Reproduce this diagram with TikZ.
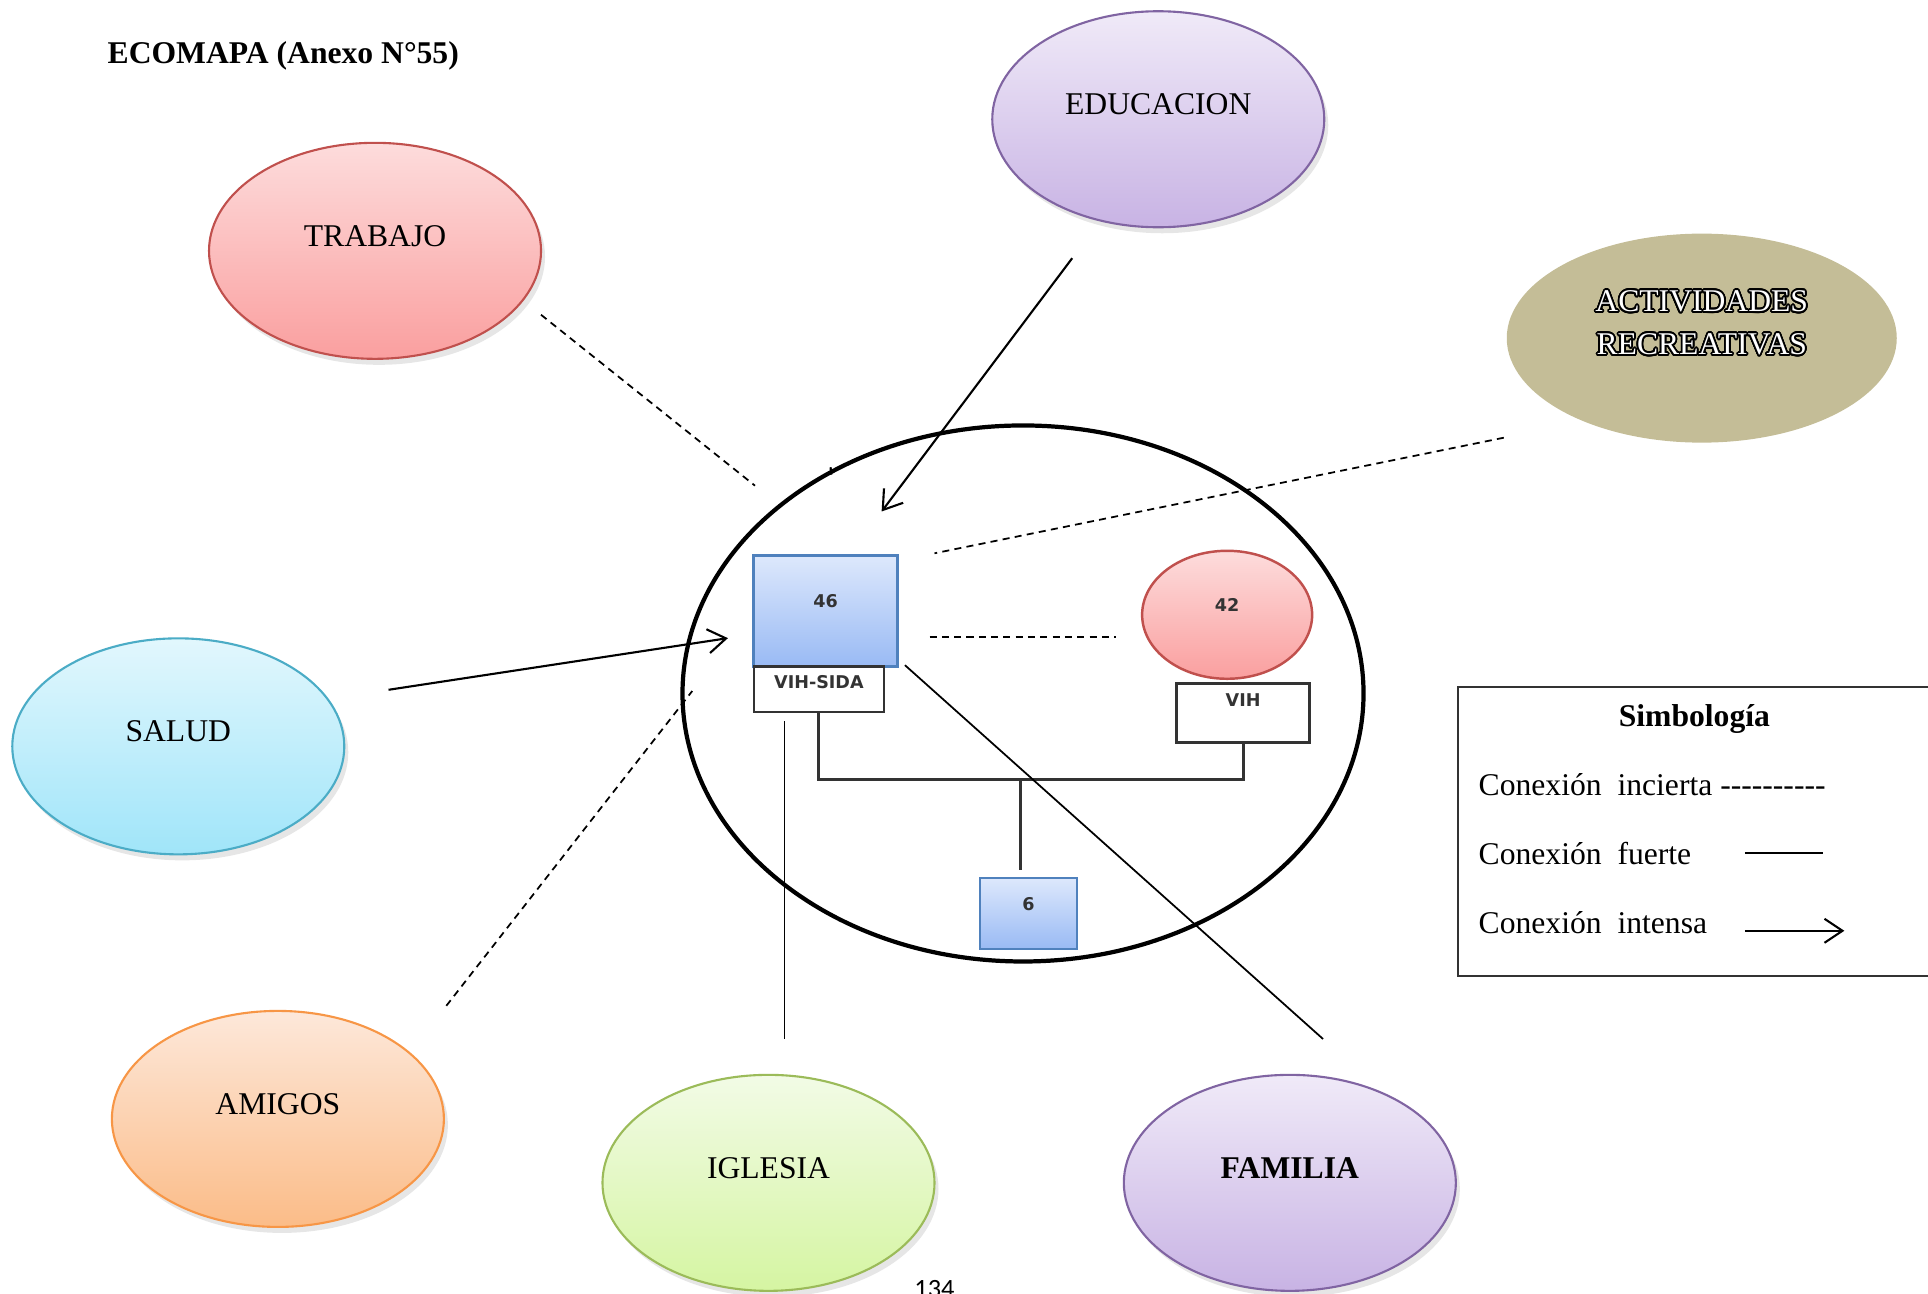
\documentclass[tikz,border=0pt]{standalone}
\usepackage{fontspec}
\setmainfont{Liberation Serif}
\newfontfamily\genofont{DejaVu Sans}
\newfontfamily\legfont{Liberation Serif}
\newfontfamily\pagefont{Carlito}
\usepackage{contour}
\contourlength{0.5pt}
\contournumber{24}
\usetikzlibrary{shapes.geometric,arrows.meta,shadows}
\definecolor{rojoB}{HTML}{C0504D}
\definecolor{rojoA}{HTML}{FDDCDC}
\definecolor{rojoC}{HTML}{FA9F9F}
\definecolor{moradoB}{HTML}{8064A2}
\definecolor{moradoA}{HTML}{F0EAF8}
\definecolor{moradoC}{HTML}{C8B3E4}
\definecolor{celesteB}{HTML}{4BACC6}
\definecolor{celesteA}{HTML}{E2F7FD}
\definecolor{celesteC}{HTML}{A0E5F9}
\definecolor{naranjaB}{HTML}{F79646}
\definecolor{naranjaA}{HTML}{FDE8DA}
\definecolor{naranjaC}{HTML}{FBBC88}
\definecolor{verdeB}{HTML}{9BBB59}
\definecolor{verdeA}{HTML}{F2FBE6}
\definecolor{verdeC}{HTML}{D5F5A2}
\definecolor{azulB}{HTML}{4F81BD}
\definecolor{azulA}{HTML}{DDE8FC}
\definecolor{azulC}{HTML}{99BAF4}
\definecolor{arena}{HTML}{C4BD97}
\definecolor{tinta}{HTML}{333333}
\tikzset{
	eco/.style = {
		shape=ellipse,
		line width=0.6pt,
		minimum width=33.2mm,
		minimum height=21.6mm,
		inner sep=0pt,
		text depth=3mm,
		font=\fontsize{9}{11}\selectfont
	},
	tono/.style = {
		draw=#1B,
		top color=#1A,
		bottom color=#1C
	},
	sombra/.style = {
		drop shadow={shadow xshift=0.4mm,shadow yshift=-0.6mm,opacity=0.2}
	},
	geno/.style = {
		inner sep=0pt,
		text=tinta,
		font=\genofont\bfseries\fontsize{5}{6}\selectfont
	},
	cuadro/.style = {
		geno,
		rectangle,
		line width=0.7pt,
		tono=azul
	},
	etiqueta/.style = {
		geno,
		rectangle,
		draw=tinta,
		line width=0.8pt,
		fill=white
	},
	texto/.style = {
		inner sep=0pt,
		font=\fontsize{9}{11}\selectfont
	},
	incierta/.style = {dash pattern=on 2pt off 1.5pt, line width=0.5pt},
	fuerte/.style = {line width=0.5pt},
	intensa/.style = {line width=0.6pt, -{Straight Barb[length=1.8mm,width=2.4mm]}}
}
\begin{document}
\begin{tikzpicture}[x=0.12296mm,y=-0.12296mm]
	\useasboundingbox (0,0) rectangle (1568,1052);
	\node[texto,anchor=base west,font=\bfseries\fontsize{9}{11}\selectfont] (titulo) at (87,52) {ECOMAPA (Anexo N°55)};

	\node[eco,tono=rojo,sombra] (trabajo) at (305,204) {TRABAJO};
	\node[eco,tono=morado,sombra] (educacion) at (942,97) {EDUCACION};
	\node[eco,fill=arena,minimum width=39mm,minimum height=20.9mm,align=center,text depth=3.1mm,font=\fontsize{9}{12.2}\selectfont] (actividades) at (1384,275)
		{{\color{white}\contour{black}{ACTIVIDADES}}\\{\color{white}\contour{black}{RECREATIVAS}}};
	\node[eco,tono=celeste,sombra] (salud) at (145,607) {SALUD};
	\node[eco,tono=naranja,sombra] (amigos) at (226,910) {AMIGOS};
	\node[eco,tono=verde,sombra] (iglesia) at (625,962) {IGLESIA};
	\node[eco,tono=morado,sombra,font=\bfseries\fontsize{9}{11}\selectfont] (familia) at (1049,962) {FAMILIA};

	\node[ellipse,draw,line width=1.2pt,minimum width=68.1mm,minimum height=53.6mm] (hogar) at (832,564) {};
	\coordinate (marca1) at (675.5,380);
	\coordinate (marca2) at (676,386);
	\draw[line width=0.6pt] (marca1) -- (marca2);

	\node[cuadro,minimum width=14.4mm,minimum height=11.1mm,text depth=2mm] (p46) at (671.5,497) {46};
	\node[etiqueta,minimum width=13mm,minimum height=4.55mm,text depth=1.4mm] (vihsida) at (666,560.5) {VIH-SIDA};
	\node[geno,ellipse,line width=0.7pt,tono=rojo,minimum width=17mm,minimum height=12.8mm,text depth=2mm] (p42) at (998,500) {42};
	\node[etiqueta,minimum width=13.3mm,minimum height=5.9mm,text depth=2.7mm] (vih) at (1011,580) {VIH};
	\node[cuadro,minimum width=9.7mm,minimum height=7.1mm,text depth=2mm] (hijo) at (836.5,743) {6};

	\coordinate (union) at (830,634);
	\draw[tinta,line width=0.9pt] (vihsida.south) |- (union) -| (vih.south);
	\draw[tinta,line width=0.9pt,shorten >=0.7mm] (union) -- (union |- hijo.north);
	\coordinate (pareja1) at (756,518);
	\coordinate (pareja2) at (908,518);
	\draw[incierta] (pareja1) -- (pareja2);

	\coordinate (trabajo1) at (440,256);
	\coordinate (trabajo2) at (614,395);
	\draw[incierta] (trabajo1) -- (trabajo2);
	\coordinate (educacion1) at (872,210);
	\coordinate (educacion2) at (717,416);
	\draw[intensa] (educacion1) -- (educacion2);
	\coordinate (actividades1) at (1223,356);
	\coordinate (actividades2) at (760,450);
	\draw[incierta] (actividades1) -- (actividades2);
	\coordinate (salud1) at (316,561);
	\coordinate (salud2) at (592,519);
	\draw[intensa] (salud1) -- (salud2);
	\coordinate (amigos1) at (363,818);
	\coordinate (amigos2) at (563,562);
	\draw[incierta] (amigos1) -- (amigos2);
	\coordinate (iglesia1) at (638,845);
	\coordinate (iglesia2) at (638,586);
	\draw[fuerte] (iglesia1) -- (iglesia2);
	\coordinate (familia1) at (1076,845);
	\coordinate (familia2) at (736,541);
	\draw[fuerte] (familia1) -- (familia2);

	\node[draw=tinta,line width=0.6pt,anchor=north west,minimum width=48.7mm,minimum height=28.9mm] (leyenda) at (1185,558) {};
	\node[texto,anchor=base,font=\bfseries\fontsize{9}{11}\selectfont] (simbologia) at (1378,591) {Simbología};
	\node[texto,anchor=base west,font=\legfont\fontsize{9}{11}\selectfont] (lincierta) at (1202,647) {Conexión\ \ incierta ----------};
	\node[texto,anchor=base west] (lfuerte) at (1202,703) {Conexión\ \ fuerte};
	\node[texto,anchor=base west] (lintensa) at (1202,759) {Conexión\ \ intensa};
	\coordinate (fuerte1) at (1419,694);
	\coordinate (fuerte2) at (1483,694);
	\draw[fuerte] (fuerte1) -- (fuerte2);
	\coordinate (intensa1) at (1419,757);
	\coordinate (intensa2) at (1500,757);
	\draw[intensa] (intensa1) -- (intensa2);

	\node[inner sep=0pt,anchor=base,font=\pagefont\fontsize{7.5}{9}\selectfont] (pagina) at (760,1055) {134};
\end{tikzpicture}
\end{document}
